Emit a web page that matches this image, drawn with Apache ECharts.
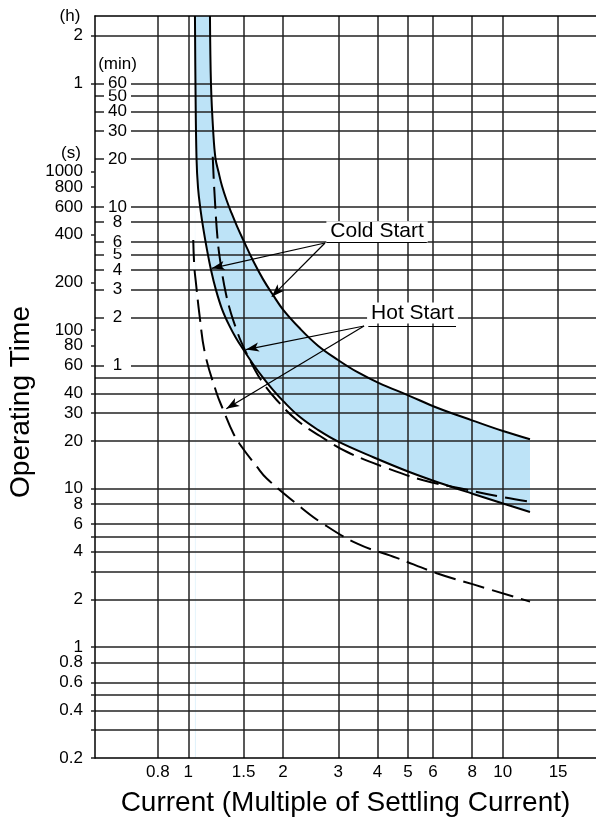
<!DOCTYPE html>
<html>
<head>
<meta charset="utf-8">
<script src="https://cdn.jsdelivr.net/npm/echarts@6/dist/echarts.min.js"></script>
<style>html,body{margin:0;padding:0;background:#fff}#c{width:596px;height:824px}</style>
</head>
<body>
<div id="c"></div>
<script>
// ---------- data ----------
// x axis (current multiple) tick / gridline values
const xTickValues = [0.8, 1, 1.5, 2, 3, 4, 5, 6, 8, 10, 15];
// y axis, seconds: labelled values (3600 and 7200 are labelled in hours)
const secLabelValues = [0.2, 0.4, 0.6, 0.8, 1, 2, 4, 6, 8, 10, 20, 30, 40, 60, 80, 100, 200, 400, 600, 800, 1000, 3600, 7200];
const secTickValues = [0.2, 0.3, 0.4, 0.5, 0.6, 0.8, 1, 2, 3, 4, 5, 6, 8, 10, 20, 30, 40, 60, 80, 100, 200, 400, 600, 800, 1000, 3600, 7200];
const hourLabels = {3600: '1', 7200: '2'};
// minute labels (values in seconds); the closely spaced 50 min label is listed first
const minLabelValues = [3000, 60, 120, 180, 240, 300, 360, 480, 600, 1200, 1800, 2400, 3600];
// horizontal grid lines (seconds)
const gridLineValues = [0.3, 0.4, 0.5, 0.6, 0.8, 1, 2, 3, 4, 5, 6, 8, 10, 20, 30, 40, 50, 60, 120, 180, 240, 300, 360, 480, 600, 1200, 1800, 2400, 3000, 3600, 7200];

// Cold start band: upper boundary
const coldUpperX = [1.172, 1.181, 1.2, 1.22, 1.248, 1.28, 1.323, 1.372, 1.428, 1.493, 1.606, 1.728, 1.859, 2.001, 2.266, 2.585, 2.993, 3.466, 4.043, 5.024, 6.213, 8.029, 10.02, 12.21];
const coldUpperY = [9600, 3524, 1806, 1220, 996, 812, 663, 549, 454, 373.5, 275, 210, 167, 135, 102.4, 79.9, 64.9, 54.1, 46.4, 38.7, 32.3, 26.9, 23.1, 20.5];
// Cold start band: lower boundary
const coldLowerX = [1.05, 1.054, 1.062, 1.074, 1.094, 1.118, 1.147, 1.181, 1.225, 1.28, 1.347, 1.418, 1.496, 1.606, 1.728, 1.859, 2.001, 2.266, 2.585, 3.0, 3.877, 5.024, 6.318, 8.064, 10.02, 12.21];
const coldLowerY = [9600, 3524, 1220, 789, 573, 429, 321, 240, 179, 136, 108, 89.3, 75.5, 61.2, 50.2, 42, 35.8, 28.3, 23.5, 19.8, 15.8, 12.8, 10.86, 9.26, 8.07, 7.13];
// Hot start: dashed curve inside the band
const hotInnerX = [1.196, 1.21, 1.24, 1.271, 1.318, 1.367, 1.418, 1.478, 1.63, 1.732, 1.91, 2.212, 2.624, 3.19, 4.276, 5.591, 7.315, 10.04, 12.21];
const hotInnerY = [1243, 766, 371, 253, 169, 128, 103, 83.1, 56.1, 46.2, 36.3, 27.1, 21.5, 17.1, 13.5, 11.3, 10.06, 8.83, 8.28];
// Hot start: outer dashed curve
const hotOuterX = [1.037, 1.045, 1.058, 1.084, 1.13, 1.231, 1.292, 1.39, 1.478, 1.651, 1.776, 2.266, 2.624, 3.433, 4.6, 6.167, 8.064, 12.21];
const hotOuterY = [371, 251.5, 197.6, 127.8, 71.5, 40, 31.4, 22.4, 18.4, 13.8, 11.6, 7.7, 6.19, 4.52, 3.66, 2.93, 2.49, 1.94];
// band fill: extra corner above the plot top at the left edge of the band
const bandTopLeft = [1.05, 30000];

// annotations (data coordinates)
const annotNames = ['Cold Start', 'Hot Start'];
const annotCenters = [[3.984, 418.3], [5.165, 128.4]];
const annotUnderlines = [[[2.755, 360], [5.733, 360]], [[3.737, 106.3], [7.103, 106.3]]];
const annotArrowFrom = [[2.721, 355], [3.622, 106.3]];
const annotArrowTo = [[[1.187, 245.8], [1.842, 162.7]], [[1.526, 75.5], [1.321, 31.97]]];

// ---------- chart ----------
const FONT = '"Liberation Sans", Arimo, Arial, Helvetica, sans-serif';
const GRID_COLOR = '#222';
const BLUE = '#BDE3F7';
const Y_MIN = 0.2, Y_MAX = 9600;
const X_MIN = 0.505, X_MAX = 19.8;
const SMOOTH = 0.4;

const pairs = (xs, ys) => xs.map((x, i) => [x, ys[i]]);

const chart = echarts.init(document.getElementById('c'), null, {renderer: 'canvas', width: 596, height: 824});

const logY = (extra) => Object.assign({
  type: 'log', logBase: 10, min: Y_MIN, max: Y_MAX, position: 'left', z: 3
}, extra);

const arrowData = [];
annotArrowFrom.forEach((from, i) => {
  annotArrowTo[i].forEach(to => {
    arrowData.push([{coord: from}, {coord: to}]);
  });
});
annotUnderlines.forEach(seg => {
  arrowData.push([{coord: seg[0], symbol: 'none'}, {coord: seg[1], symbol: 'none'}]);
});

const option = {
  animation: false,
  backgroundColor: '#fff',
  textStyle: {fontFamily: FONT},
  grid: {left: 95, right: 0, top: 16, bottom: 66, containLabel: false, outerBoundsMode: 'none'},
  xAxis: [{
    type: 'log', logBase: 10, min: X_MIN, max: X_MAX, position: 'bottom', z: 3,
    axisLine: {show: true, onZero: false, lineStyle: {color: '#000', width: 1.5}},
    axisTick: {show: false, customValues: xTickValues},
    axisLabel: {customValues: xTickValues, formatter: v => String(v), fontSize: 17, color: '#000',
      margin: 6, fontFamily: FONT, hideOverlap: false, showMinLabel: true, showMaxLabel: true},
    splitLine: {show: true, lineStyle: {color: GRID_COLOR, width: 1.5}},
    name: 'Current (Multiple of Settling Current)', nameLocation: 'middle', nameGap: 31,
    nameTextStyle: {fontSize: 28, color: '#000', fontFamily: FONT}
  }, {
    type: 'log', logBase: 10, min: X_MIN, max: X_MAX, position: 'top', z: 3,
    axisLine: {show: true, onZero: false, lineStyle: {color: '#000', width: 1.5}},
    axisTick: {show: false}, axisLabel: {show: false}, splitLine: {show: false}
  }],
  yAxis: [
    logY({
      axisLine: {show: true, onZero: false, lineStyle: {color: '#000', width: 1.5}},
      axisTick: {show: true, inside: false, length: 4, customValues: secTickValues,
        lineStyle: {color: GRID_COLOR, width: 1.5}},
      axisLabel: {customValues: secLabelValues, fontSize: 17, color: '#000', margin: 12,
        fontFamily: FONT, hideOverlap: false, showMinLabel: true, showMaxLabel: true,
        formatter: v => hourLabels[Math.round(v)] || String(v)},
      splitLine: {show: false}
    }),
    logY({
      axisLine: {show: false},
      axisTick: {show: false, customValues: gridLineValues},
      axisLabel: {show: false},
      splitLine: {show: true, lineStyle: {color: GRID_COLOR, width: 1.5}}
    }),
    logY({
      offset: -36,
      axisLine: {show: false},
      axisTick: {show: false},
      axisLabel: {customValues: minLabelValues, fontSize: 17, color: '#000', margin: 13.5,
        fontFamily: FONT, hideOverlap: false, showMinLabel: true, showMaxLabel: true,
        align: 'center', width: 27, lineHeight: 12,
        backgroundColor: '#fff', padding: 0,
        formatter: v => String(Math.round(v / 60))},
      splitLine: {show: false}
    })
  ],
  graphic: [
    {type: 'text', x: 70, y: 16, style: {text: '(h)', font: '17px ' + FONT, fill: '#000', align: 'center', verticalAlign: 'middle'}},
    {type: 'text', x: 117.5, y: 64, style: {text: '(min)', font: '17px ' + FONT, fill: '#000', align: 'center', verticalAlign: 'middle'}},
    {type: 'text', x: 71, y: 153, style: {text: '(s)', font: '17px ' + FONT, fill: '#000', align: 'center', verticalAlign: 'middle'}},
    {type: 'text', x: 21, y: 402, rotation: Math.PI / 2,
      style: {text: 'Operating Time', font: '28px ' + FONT, fill: '#000', align: 'center', verticalAlign: 'middle'}}
  ],
  series: [
    {
      name: 'bandFill', type: 'line', z: 1, silent: true, symbol: 'none', smooth: SMOOTH,
      data: [bandTopLeft].concat(pairs(coldUpperX, coldUpperY)),
      lineStyle: {width: 0, opacity: 0},
      areaStyle: {color: BLUE, opacity: 1, origin: 'start'}
    },
    {
      name: 'bandMask', type: 'line', z: 2, silent: true, symbol: 'none', smooth: SMOOTH,
      data: pairs(coldLowerX, coldLowerY),
      lineStyle: {width: 0, opacity: 0},
      areaStyle: {color: '#fff', opacity: 1, origin: 'start'}
    },
    {
      name: 'Cold Start upper', type: 'line', z: 10, silent: true, symbol: 'none', smooth: SMOOTH,
      data: pairs(coldUpperX, coldUpperY), lineStyle: {color: '#000', width: 2}
    },
    {
      name: 'Cold Start lower', type: 'line', z: 10, silent: true, symbol: 'none', smooth: SMOOTH,
      data: pairs(coldLowerX, coldLowerY), lineStyle: {color: '#000', width: 2}
    },
    {
      name: 'Hot Start inner', type: 'line', z: 10, silent: true, symbol: 'none', smooth: SMOOTH,
      data: pairs(hotInnerX, hotInnerY), lineStyle: {color: '#000', width: 2, type: [22, 8]}
    },
    {
      name: 'Hot Start outer', type: 'line', z: 10, silent: true, symbol: 'none', smooth: SMOOTH,
      data: pairs(hotOuterX, hotOuterY), lineStyle: {color: '#000', width: 2, type: [22, 8]}
    },
    {
      name: 'annotations', type: 'line', z: 12, silent: true, data: [],
      markLine: {
        silent: true, z: 14, animation: false, symbol: ['none', 'arrow'], symbolSize: [7, 13],
        label: {show: false}, lineStyle: {color: '#000', width: 1.2, type: 'solid'},
        data: arrowData
      },
      markPoint: {
        silent: true, z: 13, animation: false, symbol: 'rect', symbolSize: 1,
        itemStyle: {color: 'rgba(0,0,0,0)'},
        label: {show: true, position: 'inside', formatter: p => p.name, color: '#000', fontSize: 21,
          fontFamily: FONT, backgroundColor: '#fff', padding: [0, 4, 0, 4], lineHeight: 21},
        data: annotNames.map((n, i) => ({name: n, coord: annotCenters[i]}))
      }
    }
  ]
};
chart.setOption(option);
</script>
</body>
</html>
